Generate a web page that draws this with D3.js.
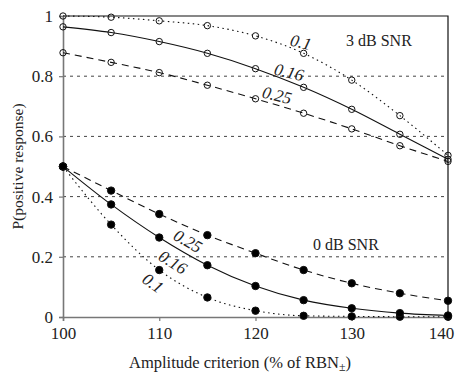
<!DOCTYPE html>
<html lang="en">
<head>
<meta charset="UTF-8">
<title>P(positive response)</title>
<script src="https://d3js.org/d3.v7.min.js"></script>
<style>
  body { margin: 0; background: #fff; }
</style>
</head>
<body>
<div id="chart"></div>
<script>
// data
var criteria = [100, 105, 110, 115, 120, 125, 130, 135, 140]
var yTicks = [0, 0.2, 0.4, 0.6, 0.8, 1]
var xTicks = [100, 110, 120, 130, 140]

// 3 dB SNR (open circles)
var snr3_010 = [1.0, 0.996, 0.984, 0.968, 0.934, 0.876, 0.787, 0.669, 0.537]
var snr3_016 = [0.964, 0.945, 0.915, 0.876, 0.825, 0.763, 0.690, 0.607, 0.524]
var snr3_025 = [0.878, 0.846, 0.812, 0.770, 0.725, 0.677, 0.625, 0.569, 0.517]

// 0 dB SNR (filled circles)
var snr0_010 = [0.5, 0.307, 0.156, 0.065, 0.021, 0.004, 0.002, 0.001, 0.001]
var snr0_016 = [0.5, 0.374, 0.264, 0.172, 0.103, 0.056, 0.029, 0.013, 0.005]
var snr0_025 = [0.5, 0.420, 0.342, 0.272, 0.212, 0.156, 0.112, 0.079, 0.054]

var FONT = "'Liberation Serif', 'Times New Roman', serif"

var width = 456
var height = 373
var margin = {top: 16, right: 8, bottom: 56, left: 63}

var svg = d3.select("#chart")
  .append("svg")
    .attr("width", width)
    .attr("height", height)

var x = d3.scaleLinear().domain([100, 140]).range([margin.left, width - margin.right])
var y = d3.scaleLinear().domain([0, 1]).range([height - margin.bottom, margin.top])

// dotted grid lines
svg.append("g")
  .selectAll("line")
  .data(yTicks.filter(function(d){ return d > 0 && d < 1 }))
  .enter()
  .append("line")
    .attr("x1", x(100))
    .attr("x2", x(140))
    .attr("y1", function(d){ return y(d) })
    .attr("y2", function(d){ return y(d) })
    .attr("stroke", "#444")
    .attr("stroke-width", 1)
    .attr("stroke-dasharray", "3,4")

// frame: top and right in black
svg.append("path")
  .attr("d", "M" + x(100) + "," + y(1) + "H" + x(140) + "V" + y(0))
  .attr("fill", "none")
  .attr("stroke", "#111")
  .attr("stroke-width", 1.2)

// axes
var xAxis = svg.append("g")
  .attr("transform", "translate(0," + y(0) + ")")
  .call(d3.axisBottom(x).tickValues(xTicks).tickSize(4).tickPadding(6).tickFormat(d3.format("d")))
var yAxis = svg.append("g")
  .attr("transform", "translate(" + x(100) + ",0)")
  .call(d3.axisLeft(y).tickValues(yTicks).tickSize(4).tickPadding(6).tickFormat(function(d){ return d === 0 || d === 1 ? d : d3.format(".1f")(d) }))

svg.selectAll(".domain").attr("stroke", "#777").attr("stroke-width", 1.6)
svg.selectAll(".tick line").attr("stroke", "#777").attr("stroke-width", 1.2)
svg.selectAll(".tick text")
  .style("font-size", "17px")
// last x label sits inside the page edge
xAxis.selectAll(".tick text").filter(function(d){ return d === 140 }).attr("dx", -7)

// series
var series = [
  {vals: snr3_010, dash: "1.5,3.5", filled: false},
  {vals: snr3_016, dash: null, filled: false},
  {vals: snr3_025, dash: "7,5", filled: false},
  {vals: snr0_010, dash: "1.5,3.5", filled: true},
  {vals: snr0_016, dash: null, filled: true},
  {vals: snr0_025, dash: "7,5", filled: true}
]

var line = d3.line()
  .x(function(d){ return x(d[0]) })
  .y(function(d){ return y(d[1]) })
  .curve(d3.curveMonotoneX)

series.forEach(function(s) {
  var pts = criteria.map(function(c, i){ return [c, s.vals[i]] })
  svg.append("path")
    .datum(pts)
    .attr("d", line)
    .attr("fill", "none")
    .attr("stroke", "#111")
    .attr("stroke-width", 1.1)
    .attr("stroke-dasharray", s.dash)

  svg.append("g")
    .selectAll("circle")
    .data(pts)
    .enter()
    .append("circle")
      .attr("cx", function(d){ return x(d[0]) })
      .attr("cy", function(d){ return y(d[1]) })
      .attr("r", s.filled ? 3.7 : 3.2)
      .attr("fill", s.filled ? "#000" : "none")
      .attr("stroke", "#111")
      .attr("stroke-width", 1)
})

// curve labels (italic, rotated along the lines)
var curveLabels = [
  {text: "0.1", cx: 301, cy: 42, rot: 14},
  {text: "0.16", cx: 289, cy: 72, rot: 14},
  {text: "0.25", cx: 277, cy: 95, rot: 14},
  {text: "0.25", cx: 188, cy: 241, rot: 30},
  {text: "0.16", cx: 173, cy: 262, rot: 32},
  {text: "0.1", cx: 153, cy: 283, rot: 36}
]
svg.append("g")
  .selectAll("text")
  .data(curveLabels)
  .enter()
  .append("text")
    .attr("transform", function(d){ return "translate(" + d.cx + "," + d.cy + ") rotate(" + d.rot + ")" })
    .attr("text-anchor", "middle")
    .attr("dy", "0.35em")
    .style("font-size", "17px")
    .style("font-style", "italic")
    .text(function(d){ return d.text })

svg.append("text")
  .attr("x", 346).attr("y", 46)
  .style("font-size", "16px")
  .text("3 dB SNR")
svg.append("text")
  .attr("x", 313).attr("y", 250)
  .style("font-size", "16px")
  .text("0 dB SNR")

// axis titles
svg.append("text")
  .attr("transform", "translate(23," + y(0.5) + ") rotate(-90)")
  .attr("text-anchor", "middle")
  .style("font-size", "15.5px")
  .text("P(positive response)")

var xt = svg.append("text")
  .attr("x", 240)
  .attr("y", 368)
  .attr("text-anchor", "middle")
  .style("font-size", "16.5px")
xt.append("tspan").text("Amplitude criterion (% of RBN")
xt.append("tspan").attr("dy", 3).style("font-size", "12px").text("\u00b1")
xt.append("tspan").attr("dy", -3).text(")")

// one serif face for every text, like the original figure
svg.selectAll("text").style("font-family", FONT).attr("fill", "#222")
</script>
</body>
</html>
